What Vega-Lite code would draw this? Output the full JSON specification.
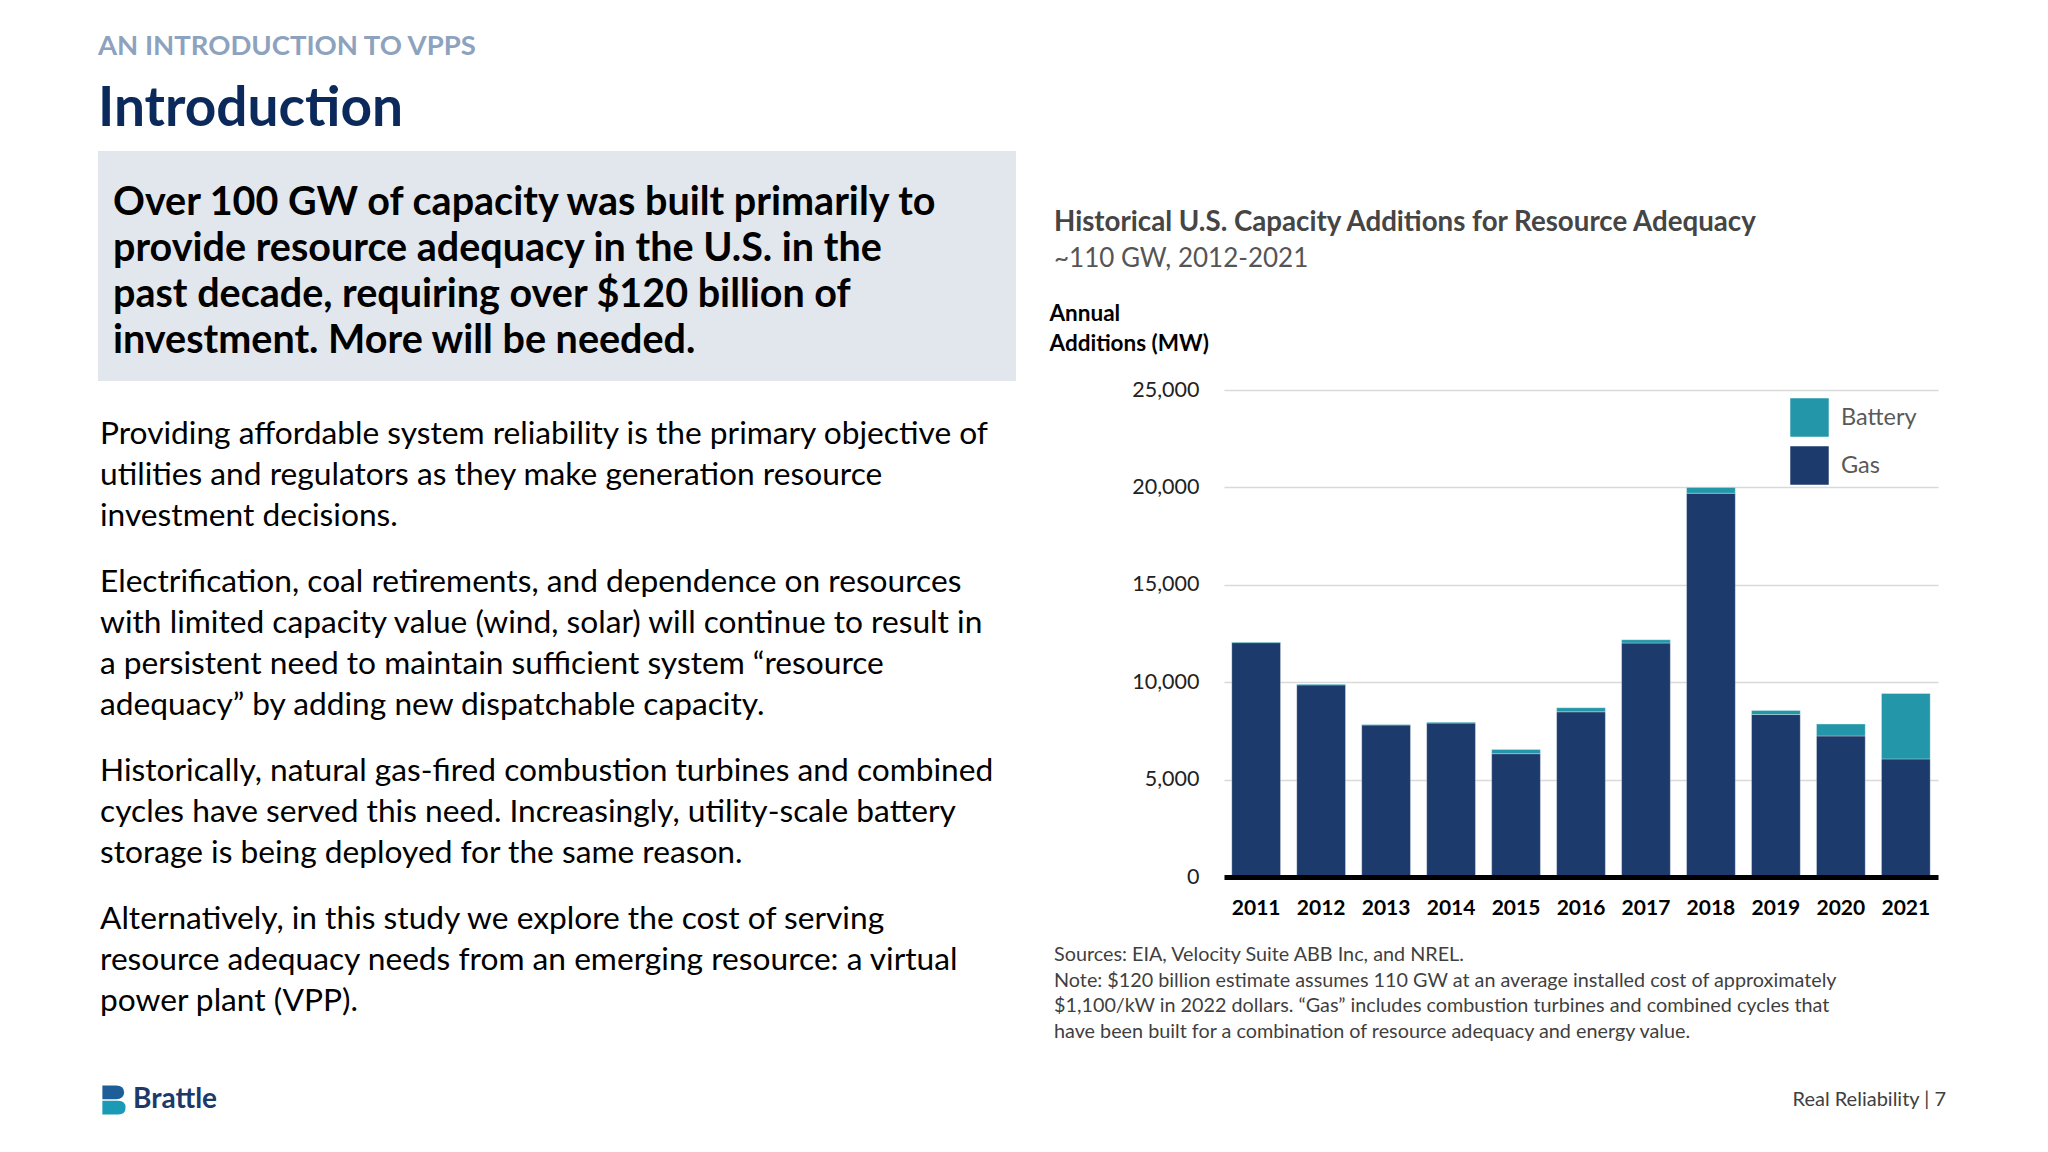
{
  "$schema": "https://vega.github.io/schema/vega-lite/v6.json",
  "background": "#ffffff",
  "padding": {"left": 98, "top": 32, "right": 0, "bottom": 0},
  "title": {
    "text": "AN INTRODUCTION TO VPPS",
    "subtitle": "Introduction",
    "anchor": "start",
    "frame": "bounds",
    "font": "Lato",
    "fontSize": 27.5,
    "fontWeight": "bold",
    "color": "#8DA2BE",
    "subtitleFont": "Lato",
    "subtitleFontSize": 55,
    "subtitleFontWeight": "bold",
    "subtitleColor": "#0B2A5B",
    "subtitlePadding": 23,
    "offset": 14
  },
  "datasets": {
    "capacity": [
      {"year": "2011", "type": "Gas", "mw": 12030},
      {"year": "2011", "type": "Battery", "mw": 40},
      {"year": "2012", "type": "Gas", "mw": 9860},
      {"year": "2012", "type": "Battery", "mw": 40},
      {"year": "2013", "type": "Gas", "mw": 7800},
      {"year": "2013", "type": "Battery", "mw": 30},
      {"year": "2014", "type": "Gas", "mw": 7900},
      {"year": "2014", "type": "Battery", "mw": 50},
      {"year": "2015", "type": "Gas", "mw": 6330},
      {"year": "2015", "type": "Battery", "mw": 220},
      {"year": "2016", "type": "Gas", "mw": 8480},
      {"year": "2016", "type": "Battery", "mw": 210},
      {"year": "2017", "type": "Gas", "mw": 12010},
      {"year": "2017", "type": "Battery", "mw": 170},
      {"year": "2018", "type": "Gas", "mw": 19700},
      {"year": "2018", "type": "Battery", "mw": 300},
      {"year": "2019", "type": "Gas", "mw": 8340},
      {"year": "2019", "type": "Battery", "mw": 210},
      {"year": "2020", "type": "Gas", "mw": 7240},
      {"year": "2020", "type": "Battery", "mw": 610},
      {"year": "2021", "type": "Gas", "mw": 6060},
      {"year": "2021", "type": "Battery", "mw": 3360}
    ],
    "copy": [
      {"block": "box", "line": 1, "text": "Over 100 GW of capacity was built primarily to"},
      {"block": "box", "line": 2, "text": "provide resource adequacy in the U.S. in the"},
      {"block": "box", "line": 3, "text": "past decade, requiring over $120 billion of"},
      {"block": "box", "line": 4, "text": "investment. More will be needed."},
      {"block": "p1", "line": 1, "text": "Providing affordable system reliability is the primary objective of"},
      {"block": "p1", "line": 2, "text": "utilities and regulators as they make generation resource"},
      {"block": "p1", "line": 3, "text": "investment decisions."},
      {"block": "p2", "line": 1, "text": "Electrification, coal retirements, and dependence on resources"},
      {"block": "p2", "line": 2, "text": "with limited capacity value (wind, solar) will continue to result in"},
      {"block": "p2", "line": 3, "text": "a persistent need to maintain sufficient system “resource"},
      {"block": "p2", "line": 4, "text": "adequacy” by adding new dispatchable capacity."},
      {"block": "p3", "line": 1, "text": "Historically, natural gas-fired combustion turbines and combined"},
      {"block": "p3", "line": 2, "text": "cycles have served this need. Increasingly, utility-scale battery"},
      {"block": "p3", "line": 3, "text": "storage is being deployed for the same reason."},
      {"block": "p4", "line": 1, "text": "Alternatively, in this study we explore the cost of serving"},
      {"block": "p4", "line": 2, "text": "resource adequacy needs from an emerging resource: a virtual"},
      {"block": "p4", "line": 3, "text": "power plant (VPP)."},
      {"block": "note", "line": 1, "text": "Sources: EIA, Velocity Suite ABB Inc, and NREL."},
      {"block": "note", "line": 2, "text": "Note: $120 billion estimate assumes 110 GW at an average installed cost of approximately"},
      {"block": "note", "line": 3, "text": "$1,100/kW in 2022 dollars. “Gas” includes combustion turbines and combined cycles that"},
      {"block": "note", "line": 4, "text": "have been built for a combination of resource adequacy and energy value."}
    ],
    "footer": [
      {"side": "left", "label": "Brattle"},
      {"side": "right", "label": "Real Reliability | 7"}
    ]
  },
  "vconcat": [
    {
      "hconcat": [
        {
          "vconcat": [
            {
              "width": 918,
              "height": 230,
              "view": {"fill": "#E2E7ED", "stroke": null},
              "data": {"name": "copy"},
              "transform": [{"filter": "datum.block == 'box'"}],
              "mark": {"type": "text", "align": "left", "baseline": "middle", "font": "Lato", "fontSize": 39.5, "fontWeight": "bold", "color": "#000000", "dx": 15, "dy": 6},
              "encoding": {
                "x": {"datum": 0, "type": "quantitative", "scale": {"domain": [0, 1]}, "axis": null},
                "y": {"field": "line", "type": "ordinal", "axis": null, "scale": {"type": "point", "padding": 1}},
                "text": {"field": "text"}
              }
            },
            {
              "vconcat": [
                {
                  "width": 918,
                  "height": 123,
                  "data": {"name": "copy"},
                  "transform": [{"filter": "datum.block == 'p1'"}],
                  "mark": {"type": "text", "align": "left", "baseline": "middle", "font": "Lato", "fontSize": 31.7, "color": "#000000", "dx": 2, "dy": 3},
                  "encoding": {
                    "x": {"datum": 0, "type": "quantitative", "scale": {"domain": [0, 1]}, "axis": null},
                    "y": {"field": "line", "type": "ordinal", "axis": null, "scale": {"type": "point", "padding": 0.5}},
                    "text": {"field": "text"}
                  }
                },
                {
                  "width": 918,
                  "height": 164,
                  "data": {"name": "copy"},
                  "transform": [{"filter": "datum.block == 'p2'"}],
                  "mark": {"type": "text", "align": "left", "baseline": "middle", "font": "Lato", "fontSize": 31.7, "color": "#000000", "dx": 2, "dy": 3},
                  "encoding": {
                    "x": {"datum": 0, "type": "quantitative", "scale": {"domain": [0, 1]}, "axis": null},
                    "y": {"field": "line", "type": "ordinal", "axis": null, "scale": {"type": "point", "padding": 0.5}},
                    "text": {"field": "text"}
                  }
                },
                {
                  "width": 918,
                  "height": 123,
                  "data": {"name": "copy"},
                  "transform": [{"filter": "datum.block == 'p3'"}],
                  "mark": {"type": "text", "align": "left", "baseline": "middle", "font": "Lato", "fontSize": 31.7, "color": "#000000", "dx": 2, "dy": 3},
                  "encoding": {
                    "x": {"datum": 0, "type": "quantitative", "scale": {"domain": [0, 1]}, "axis": null},
                    "y": {"field": "line", "type": "ordinal", "axis": null, "scale": {"type": "point", "padding": 0.5}},
                    "text": {"field": "text"}
                  }
                },
                {
                  "width": 918,
                  "height": 123,
                  "data": {"name": "copy"},
                  "transform": [{"filter": "datum.block == 'p4'"}],
                  "mark": {"type": "text", "align": "left", "baseline": "middle", "font": "Lato", "fontSize": 31.7, "color": "#000000", "dx": 2, "dy": 3},
                  "encoding": {
                    "x": {"datum": 0, "type": "quantitative", "scale": {"domain": [0, 1]}, "axis": null},
                    "y": {"field": "line", "type": "ordinal", "axis": null, "scale": {"type": "point", "padding": 0.5}},
                    "text": {"field": "text"}
                  }
                }
              ],
              "spacing": 25
            }
          ],
          "spacing": 29
        },
        {
          "vconcat": [
            {
              "width": 10,
              "height": 36,
              "data": {"values": [{"blank": ""}]},
              "mark": {"type": "text", "opacity": 0},
              "encoding": {"text": {"field": "blank"}}
            },
            {
              "width": 714,
              "height": 487,
              "title": {
                "text": "Historical U.S. Capacity Additions for Resource Adequacy",
                "subtitle": "~110 GW, 2012-2021",
                "anchor": "start",
                "frame": "bounds",
                "dx": 5,
                "font": "Lato",
                "fontSize": 27.7,
                "fontWeight": "bold",
                "color": "#454545",
                "subtitleFont": "Lato",
                "subtitleFontSize": 26,
                "subtitleColor": "#555555",
                "subtitlePadding": 9,
                "offset": 30
              },
              "data": {"name": "capacity"},
              "mark": {"type": "bar", "stroke": "#ffffff", "strokeWidth": 0.6, "strokeOpacity": 0.5},
              "encoding": {
                "x": {
                  "field": "year",
                  "type": "ordinal",
                  "scale": {"paddingInner": 0.25, "paddingOuter": 0.12},
                  "axis": {
                    "title": null,
                    "labelAngle": 0,
                    "labelFont": "Lato",
                    "labelFontSize": 21,
                    "labelFontWeight": "bold",
                    "labelColor": "#000000",
                    "labelPadding": 20,
                    "ticks": false,
                    "tickSize": 0,
                    "domainColor": "#000000",
                    "domainWidth": 5,
                    "grid": false,
                    "zindex": 1
                  }
                },
                "y": {
                  "field": "mw",
                  "type": "quantitative",
                  "stack": "zero",
                  "scale": {"domain": [0, 25000], "nice": false},
                  "axis": {
                    "values": [0, 5000, 10000, 15000, 20000, 25000],
                    "format": ",d",
                    "domain": false,
                    "ticks": false,
                    "tickSize": 0,
                    "labelFont": "Lato",
                    "labelFontSize": 21.5,
                    "labelColor": "#222222",
                    "labelPadding": 25,
                    "gridColor": "#D9D9D9",
                    "gridWidth": 1.5,
                    "title": ["Annual", "Additions (MW)"],
                    "titleAngle": 0,
                    "titleAlign": "left",
                    "titleBaseline": "top",
                    "titleX": -175,
                    "titleY": -88,
                    "titleFont": "Lato",
                    "titleFontSize": 22.5,
                    "titleFontWeight": "bold",
                    "titleColor": "#000000",
                    "titleLineHeight": 30
                  }
                },
                "color": {
                  "field": "type",
                  "type": "nominal",
                  "scale": {"domain": ["Battery", "Gas"], "range": ["#2397A9", "#1C3A6B"]},
                  "legend": {
                    "title": null,
                    "orient": "none",
                    "legendX": 566,
                    "legendY": 8,
                    "padding": 0,
                    "symbolType": "square",
                    "symbolSize": 1480,
                    "symbolStrokeWidth": 0,
                    "symbolOpacity": 1,
                    "labelFont": "Lato",
                    "labelFontSize": 23.5,
                    "labelColor": "#595959",
                    "labelOffset": 12,
                    "rowPadding": 9
                  }
                },
                "order": {"field": "type", "sort": "descending"}
              }
            },
            {
              "width": 700,
              "height": 103,
              "data": {"name": "copy"},
              "transform": [{"filter": "datum.block == 'note'"}],
              "mark": {"type": "text", "align": "left", "baseline": "middle", "font": "Lato", "fontSize": 19.8, "color": "#3F3F3F", "dx": -170, "dy": 2},
              "encoding": {
                "x": {"datum": 0, "type": "quantitative", "scale": {"domain": [0, 1]}, "axis": null},
                "y": {"field": "line", "type": "ordinal", "axis": null, "scale": {"type": "point", "padding": 0.5}},
                "text": {"field": "text"}
              }
            }
          ],
          "spacing": 22,
          "resolve": {"scale": {"color": "independent"}, "legend": {"color": "independent"}}
        }
      ],
      "spacing": 33,
      "resolve": {"scale": {"color": "independent"}, "legend": {"color": "independent"}}
    },
    {
      "width": 1848,
      "height": 30,
      "data": {"name": "footer"},
      "encoding": {
        "x": {"field": "side", "type": "nominal", "scale": {"type": "point", "domain": ["left", "right"], "padding": 0}, "axis": null}
      },
      "layer": [
        {
          "transform": [{"filter": "datum.side == 'left'"}],
          "mark": {"type": "point", "filled": true, "opacity": 1, "strokeWidth": 0, "color": "#1E5E98", "size": 841,
                   "shape": "M0.3,-1 L1.25,-1 Q1.8,-1 1.8,-0.53 Q1.8,-0.05 1.25,-0.05 L0.3,-0.05 Z"}
        },
        {
          "transform": [{"filter": "datum.side == 'left'"}],
          "mark": {"type": "point", "filled": true, "opacity": 1, "strokeWidth": 0, "color": "#1B9AB5", "size": 841,
                   "shape": "M0.3,0.05 L1.4,0.05 Q1.9,0.05 1.9,0.52 Q1.9,1 1.4,1 L0.3,1 Z"}
        },
        {
          "transform": [{"filter": "datum.side == 'left'"}],
          "mark": {"type": "text", "align": "left", "baseline": "middle", "dx": 35, "font": "Lato", "fontSize": 28, "fontWeight": "bold", "color": "#1B3A6B"},
          "encoding": {"text": {"field": "label"}}
        },
        {
          "transform": [{"filter": "datum.side == 'right'"}],
          "mark": {"type": "text", "align": "right", "baseline": "middle", "font": "Lato", "fontSize": 20, "color": "#404040"},
          "encoding": {"text": {"field": "label"}}
        }
      ]
    }
  ],
  "spacing": 42,
  "resolve": {"scale": {"color": "independent"}, "legend": {"color": "independent"}},
  "config": {
    "view": {"stroke": null},
    "font": "Lato",
    "axis": {"labelFont": "Lato", "titleFont": "Lato"}
  }
}
